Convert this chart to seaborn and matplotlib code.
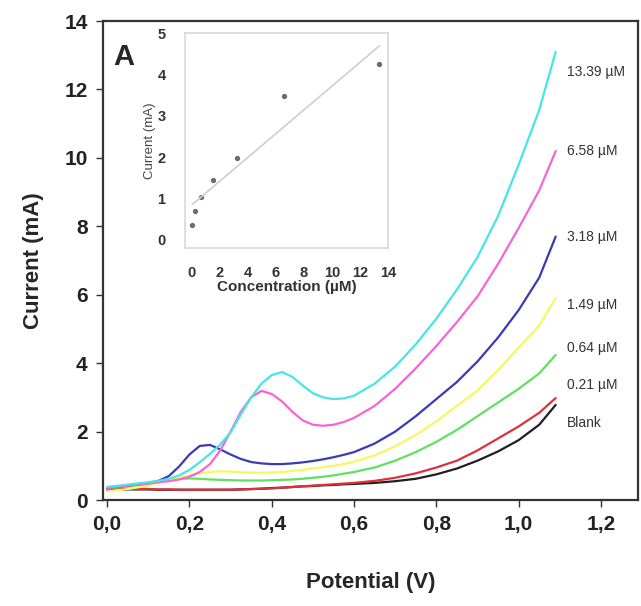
import numpy as np
import pandas as pd
import matplotlib
matplotlib.use("Agg")
import matplotlib.pyplot as plt
import seaborn as sns

#######################
# DATA
#######################

# common potential grid (V)
potential = [0.00, 0.05, 0.10, 0.125, 0.15, 0.175, 0.20, 0.225, 0.25, 0.275,
             0.30, 0.325, 0.35, 0.375, 0.40, 0.425, 0.45, 0.475, 0.50, 0.525,
             0.55, 0.575, 0.60, 0.65, 0.70, 0.75, 0.80, 0.85, 0.90, 0.95,
             1.00, 1.05, 1.09]

current_13_39 = [0.38, 0.45, 0.52, 0.56, 0.62, 0.72, 0.88, 1.10, 1.35, 1.62,
                 1.98, 2.50, 3.00, 3.40, 3.65, 3.74, 3.60, 3.35, 3.12, 3.00,
                 2.95, 2.97, 3.05, 3.40, 3.90, 4.55, 5.30, 6.15, 7.10, 8.30,
                 9.80, 11.40, 13.10]
current_6_58 = [0.35, 0.42, 0.48, 0.52, 0.55, 0.60, 0.68, 0.82, 1.05, 1.45,
                2.00, 2.58, 3.00, 3.19, 3.10, 2.88, 2.58, 2.33, 2.20, 2.17,
                2.20, 2.28, 2.40, 2.75, 3.25, 3.85, 4.50, 5.20, 5.95, 6.90,
                7.95, 9.05, 10.20]
current_3_18 = [0.35, 0.42, 0.50, 0.56, 0.70, 0.98, 1.33, 1.58, 1.61, 1.48,
                1.33, 1.20, 1.11, 1.07, 1.05, 1.05, 1.07, 1.10, 1.14, 1.19,
                1.25, 1.32, 1.40, 1.65, 2.00, 2.45, 2.95, 3.45, 4.05, 4.75,
                5.55, 6.50, 7.70]
current_1_49 = [0.25, 0.32, 0.42, 0.50, 0.58, 0.65, 0.72, 0.78, 0.82, 0.84,
                0.83, 0.81, 0.80, 0.80, 0.80, 0.82, 0.85, 0.88, 0.92, 0.96,
                1.00, 1.05, 1.12, 1.30, 1.57, 1.90, 2.30, 2.75, 3.20, 3.80,
                4.45, 5.10, 5.90]
current_0_64 = [0.33, 0.40, 0.47, 0.52, 0.58, 0.62, 0.63, 0.62, 0.60, 0.59,
                0.58, 0.57, 0.57, 0.57, 0.58, 0.59, 0.60, 0.62, 0.65, 0.68,
                0.72, 0.77, 0.82, 0.95, 1.15, 1.40, 1.70, 2.05, 2.45, 2.85,
                3.25, 3.70, 4.24]
current_0_21 = [0.32, 0.33, 0.32, 0.31, 0.31, 0.30, 0.30, 0.30, 0.30, 0.30,
                0.30, 0.31, 0.32, 0.33, 0.34, 0.36, 0.38, 0.40, 0.42, 0.44,
                0.46, 0.48, 0.50, 0.56, 0.65, 0.78, 0.95, 1.15, 1.45, 1.80,
                2.15, 2.55, 2.98]
current_blank = [0.30, 0.31, 0.31, 0.30, 0.30, 0.30, 0.30, 0.30, 0.30, 0.30,
                 0.30, 0.31, 0.32, 0.33, 0.35, 0.36, 0.38, 0.40, 0.41, 0.43,
                 0.44, 0.46, 0.47, 0.50, 0.55, 0.62, 0.75, 0.92, 1.15, 1.42,
                 1.75, 2.20, 2.78]

curve_labels = ["13.39 µM", "6.58 µM", "3.18 µM", "1.49 µM", "0.64 µM", "0.21 µM", "Blank"]
curve_colors = ["#45e6e6", "#f565d5", "#3a3ab4", "#f7f760", "#60e060", "#e0303a", "#202020"]
label_y = [12.5, 10.2, 7.7, 5.7, 4.45, 3.35, 2.25]

# inset: calibration
concentration = [0.0, 0.21, 0.64, 1.49, 3.18, 6.58, 13.39]
peak_current = [0.36, 0.69, 1.03, 1.45, 1.98, 3.47, 4.26]

#######################
# PLOT
#######################

sns.set_style("white")
plt.rcParams['font.family'] = ['Liberation Sans', 'DejaVu Sans']

fig = plt.figure(figsize=(6.41, 6.06), dpi=100)
ax = fig.add_axes([0.1607, 0.1749, 0.8346, 0.7904])

all_curves = [current_13_39, current_6_58, current_3_18, current_1_49,
              current_0_64, current_0_21, current_blank]
# draw lowest first so the high curves sit on top
for values, color in zip(all_curves[::-1], curve_colors[::-1]):
    sns.lineplot(x=potential, y=values, color=color, lw=1.6, ax=ax,
                 estimator=None, sort=False)

for lab, y in zip(curve_labels, label_y):
    ax.text(1.117, y, lab, fontsize=10, color="#333333", va="center")

ax.set_xlim(-0.01, 1.29)
ax.set_ylim(0, 14)
ax.set_xticks(np.arange(0, 1.21, 0.2))
ax.set_xticklabels([f"{v:.1f}".replace(".", ",") for v in np.arange(0, 1.21, 0.2)])
ax.set_yticks(range(0, 15, 2))
ax.tick_params(axis="both", labelsize=15, length=5, width=1, color="#333333",
               bottom=True, left=True, pad=6)
for lab in ax.get_xticklabels() + ax.get_yticklabels():
    lab.set_fontweight("bold")
    lab.set_color("#222222")
ax.set_xlabel("Potential (V)", fontsize=16, fontweight="bold", labelpad=27)
ax.set_ylabel("Current (mA)", fontsize=16, fontweight="bold", labelpad=15)
for s in ax.spines.values():
    s.set_color("#333333")
    s.set_linewidth(1.6)

ax.text(0.019, 0.925, "A", transform=ax.transAxes, fontsize=21,
        fontweight="bold", va="center")

# inset
axin = fig.add_axes([0.2886, 0.5908, 0.3167, 0.3547])
sns.regplot(x=concentration, y=peak_current, ci=None, ax=axin,
            scatter_kws={"s": 8, "color": "#555555"},
            line_kws={"color": "#cfcfcf", "lw": 1.2})
axin.set_xlim(-0.5, 14.0)
axin.set_ylim(-0.2, 5.0)
axin.set_xticks(range(0, 15, 2))
axin.set_yticks(range(0, 6))
axin.tick_params(length=0, labelsize=10.5, colors="#333333")
axin.tick_params(axis="x", pad=13)
axin.tick_params(axis="y", pad=14)
for lab in axin.get_xticklabels() + axin.get_yticklabels():
    lab.set_fontweight("bold")
axin.set_xlabel("Concentration (µM)", fontsize=11, fontweight="bold",
                color="#333333", labelpad=0)
axin.set_ylabel("Current (mA)", fontsize=9.5, color="#444444", labelpad=1)
for s in axin.spines.values():
    s.set_color("#d8d8d8")
    s.set_linewidth(1.2)

fig.savefig("out.png", dpi=100)
